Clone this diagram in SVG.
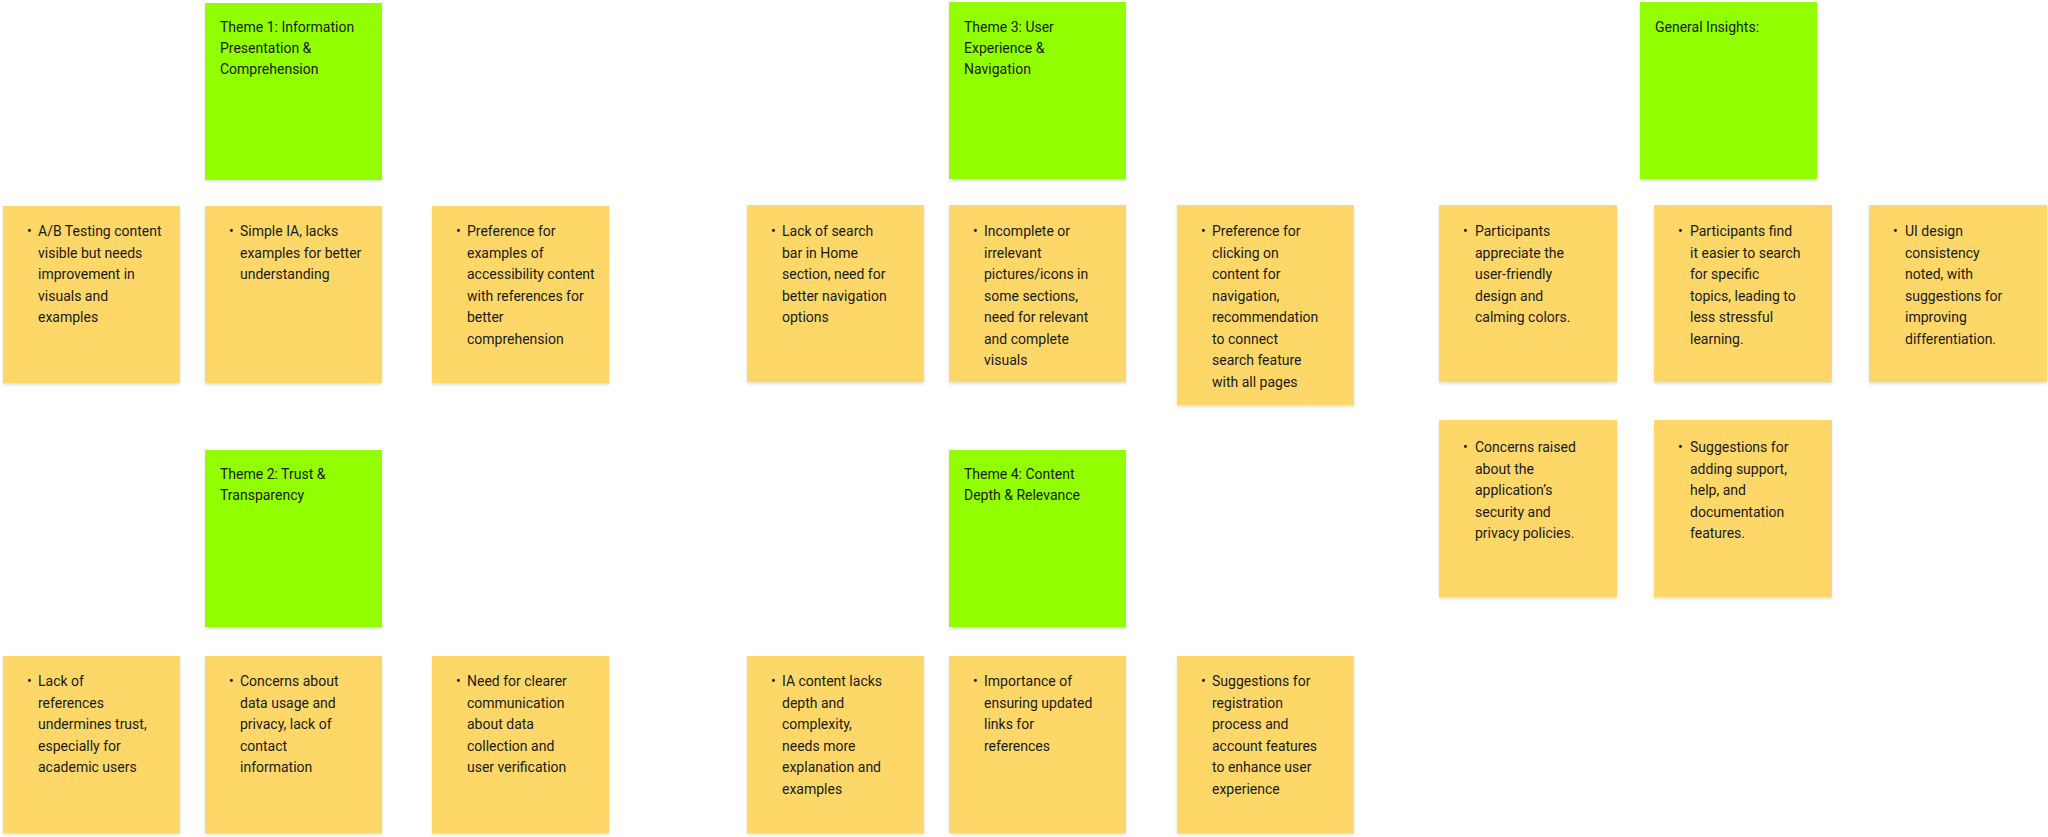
<svg xmlns="http://www.w3.org/2000/svg" width="2048" height="837" viewBox="0 0 2048 837">
<defs>
<filter id="sh" x="-5%" y="-5%" width="110%" height="115%"><feDropShadow dx="0" dy="2" stdDeviation="1.5" flood-color="#000" flood-opacity="0.12"/></filter>
</defs>
<style>
.g{fill:#91FF00;filter:url(#sh)}
.y{fill:#FDD867;filter:url(#sh)}
text{font-family:Roboto,"Liberation Sans",sans-serif;font-size:14px;fill:#1a1a1a}
</style>
<rect width="2048" height="837" fill="#fff"/>
<g id="theme1"><rect class="g" x="205" y="3" width="177" height="177"/><text x="220" y="32"><tspan x="220">Theme 1: Information</tspan><tspan x="220" dy="21">Presentation &amp;</tspan><tspan x="220" dy="21">Comprehension</tspan></text></g>
<g id="theme3"><rect class="g" x="949" y="2" width="177" height="177"/><text x="964" y="32"><tspan x="964">Theme 3: User</tspan><tspan x="964" dy="21">Experience &amp;</tspan><tspan x="964" dy="21">Navigation</tspan></text></g>
<g id="general"><rect class="g" x="1640" y="2" width="177" height="177"/><text x="1655" y="32">General Insights:</text></g>
<g id="theme2"><rect class="g" x="205" y="450" width="177" height="177"/><text x="220" y="479"><tspan x="220">Theme 2: Trust &amp;</tspan><tspan x="220" dy="21">Transparency</tspan></text></g>
<g id="theme4"><rect class="g" x="949" y="450" width="177" height="177"/><text x="964" y="479"><tspan x="964">Theme 4: Content</tspan><tspan x="964" dy="21">Depth &amp; Relevance</tspan></text></g>

<g id="n1"><rect class="y" x="3" y="206" width="177" height="177"/><text x="27" y="236">•</text><text y="236"><tspan x="38">A/B Testing content</tspan><tspan x="38" dy="21.5">visible but needs</tspan><tspan x="38" dy="21.5">improvement in</tspan><tspan x="38" dy="21.5">visuals and</tspan><tspan x="38" dy="21.5">examples</tspan></text></g>
<g id="n2"><rect class="y" x="205" y="206" width="177" height="177"/><text x="229" y="236">•</text><text y="236"><tspan x="240">Simple IA, lacks</tspan><tspan x="240" dy="21.5">examples for better</tspan><tspan x="240" dy="21.5">understanding</tspan></text></g>
<g id="n3"><rect class="y" x="432" y="206" width="177" height="177"/><text x="456" y="236">•</text><text y="236"><tspan x="467">Preference for</tspan><tspan x="467" dy="21.5">examples of</tspan><tspan x="467" dy="21.5">accessibility content</tspan><tspan x="467" dy="21.5">with references for</tspan><tspan x="467" dy="21.5">better</tspan><tspan x="467" dy="21.5">comprehension</tspan></text></g>
<g id="n4"><rect class="y" x="747" y="205" width="177" height="177"/><text x="771" y="236">•</text><text y="236"><tspan x="782">Lack of search</tspan><tspan x="782" dy="21.5">bar in Home</tspan><tspan x="782" dy="21.5">section, need for</tspan><tspan x="782" dy="21.5">better navigation</tspan><tspan x="782" dy="21.5">options</tspan></text></g>
<g id="n5"><rect class="y" x="949" y="205" width="177" height="177"/><text x="973" y="236">•</text><text y="236"><tspan x="984">Incomplete or</tspan><tspan x="984" dy="21.5">irrelevant</tspan><tspan x="984" dy="21.5">pictures/icons in</tspan><tspan x="984" dy="21.5">some sections,</tspan><tspan x="984" dy="21.5">need for relevant</tspan><tspan x="984" dy="21.5">and complete</tspan><tspan x="984" dy="21.5">visuals</tspan></text></g>
<g id="n6"><rect class="y" x="1177" y="205" width="177" height="200"/><text x="1201" y="236">•</text><text y="236"><tspan x="1212">Preference for</tspan><tspan x="1212" dy="21.5">clicking on</tspan><tspan x="1212" dy="21.5">content for</tspan><tspan x="1212" dy="21.5">navigation,</tspan><tspan x="1212" dy="21.5">recommendation</tspan><tspan x="1212" dy="21.5">to connect</tspan><tspan x="1212" dy="21.5">search feature</tspan><tspan x="1212" dy="21.5">with all pages</tspan></text></g>
<g id="n7"><rect class="y" x="1439" y="205" width="178" height="177"/><text x="1463" y="236">•</text><text y="236"><tspan x="1475">Participants</tspan><tspan x="1475" dy="21.5">appreciate the</tspan><tspan x="1475" dy="21.5">user-friendly</tspan><tspan x="1475" dy="21.5">design and</tspan><tspan x="1475" dy="21.5">calming colors.</tspan></text></g>
<g id="n8"><rect class="y" x="1654" y="205" width="178" height="177"/><text x="1678" y="236">•</text><text y="236"><tspan x="1690">Participants find</tspan><tspan x="1690" dy="21.5">it easier to search</tspan><tspan x="1690" dy="21.5">for specific</tspan><tspan x="1690" dy="21.5">topics, leading to</tspan><tspan x="1690" dy="21.5">less stressful</tspan><tspan x="1690" dy="21.5">learning.</tspan></text></g>
<g id="n9"><rect class="y" x="1869" y="205" width="178" height="177"/><text x="1893" y="236">•</text><text y="236"><tspan x="1905">UI design</tspan><tspan x="1905" dy="21.5">consistency</tspan><tspan x="1905" dy="21.5">noted, with</tspan><tspan x="1905" dy="21.5">suggestions for</tspan><tspan x="1905" dy="21.5">improving</tspan><tspan x="1905" dy="21.5">differentiation.</tspan></text></g>
<g id="n10"><rect class="y" x="1439" y="420" width="178" height="177"/><text x="1463" y="452">•</text><text y="452"><tspan x="1475">Concerns raised</tspan><tspan x="1475" dy="21.5">about the</tspan><tspan x="1475" dy="21.5">application’s</tspan><tspan x="1475" dy="21.5">security and</tspan><tspan x="1475" dy="21.5">privacy policies.</tspan></text></g>
<g id="n11"><rect class="y" x="1654" y="420" width="178" height="177"/><text x="1678" y="452">•</text><text y="452"><tspan x="1690">Suggestions for</tspan><tspan x="1690" dy="21.5">adding support,</tspan><tspan x="1690" dy="21.5">help, and</tspan><tspan x="1690" dy="21.5">documentation</tspan><tspan x="1690" dy="21.5">features.</tspan></text></g>

<g id="n12"><rect class="y" x="3" y="656" width="177" height="177"/><text x="27" y="686">•</text><text y="686"><tspan x="38">Lack of</tspan><tspan x="38" dy="21.5">references</tspan><tspan x="38" dy="21.5">undermines trust,</tspan><tspan x="38" dy="21.5">especially for</tspan><tspan x="38" dy="21.5">academic users</tspan></text></g>
<g id="n13"><rect class="y" x="205" y="656" width="177" height="177"/><text x="229" y="686">•</text><text y="686"><tspan x="240">Concerns about</tspan><tspan x="240" dy="21.5">data usage and</tspan><tspan x="240" dy="21.5">privacy, lack of</tspan><tspan x="240" dy="21.5">contact</tspan><tspan x="240" dy="21.5">information</tspan></text></g>
<g id="n14"><rect class="y" x="432" y="656" width="177" height="177"/><text x="456" y="686">•</text><text y="686"><tspan x="467">Need for clearer</tspan><tspan x="467" dy="21.5">communication</tspan><tspan x="467" dy="21.5">about data</tspan><tspan x="467" dy="21.5">collection and</tspan><tspan x="467" dy="21.5">user verification</tspan></text></g>
<g id="n15"><rect class="y" x="747" y="656" width="177" height="177"/><text x="771" y="686">•</text><text y="686"><tspan x="782">IA content lacks</tspan><tspan x="782" dy="21.5">depth and</tspan><tspan x="782" dy="21.5">complexity,</tspan><tspan x="782" dy="21.5">needs more</tspan><tspan x="782" dy="21.5">explanation and</tspan><tspan x="782" dy="21.5">examples</tspan></text></g>
<g id="n16"><rect class="y" x="949" y="656" width="177" height="177"/><text x="973" y="686">•</text><text y="686"><tspan x="984">Importance of</tspan><tspan x="984" dy="21.5">ensuring updated</tspan><tspan x="984" dy="21.5">links for</tspan><tspan x="984" dy="21.5">references</tspan></text></g>
<g id="n17"><rect class="y" x="1177" y="656" width="177" height="177"/><text x="1201" y="686">•</text><text y="686"><tspan x="1212">Suggestions for</tspan><tspan x="1212" dy="21.5">registration</tspan><tspan x="1212" dy="21.5">process and</tspan><tspan x="1212" dy="21.5">account features</tspan><tspan x="1212" dy="21.5">to enhance user</tspan><tspan x="1212" dy="21.5">experience</tspan></text></g>
<g id="connectors"/>
</svg>
